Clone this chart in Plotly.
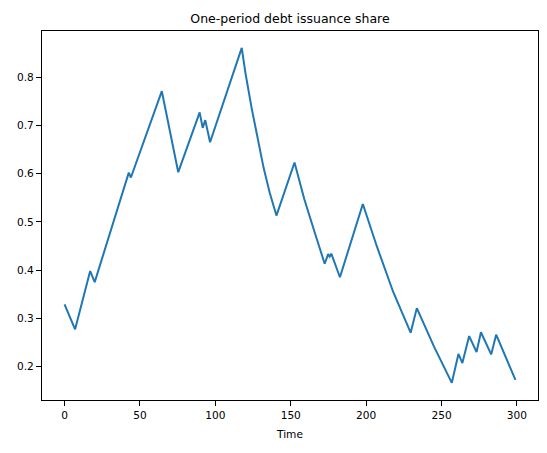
import plotly.graph_objects as go

# Time (x) and share (y) at the visible turning points of the line
time = [0, 7, 17, 20, 42.6, 44, 64.5, 75.4, 89.6, 91.6, 93.3, 96.5, 117.5,
        120, 124, 128, 132, 136, 140.5, 152.5, 159, 166, 172.5, 174.8, 175.8,
        176.9, 182.6, 197.8, 207, 218, 229.5, 233.6, 245, 256.8, 261.2, 263.8,
        268.3, 273.2, 276.1, 282.9, 286.2, 299]
share = [0.329, 0.277, 0.398, 0.375, 0.602, 0.592, 0.771, 0.603, 0.727, 0.695,
         0.711, 0.665, 0.861, 0.808, 0.737, 0.672, 0.612, 0.561, 0.513, 0.623,
         0.547, 0.477, 0.413, 0.433, 0.428, 0.434, 0.385, 0.537, 0.450, 0.354,
         0.270, 0.321, 0.241, 0.166, 0.226, 0.207, 0.263, 0.230, 0.271, 0.225,
         0.266, 0.172]

x_ticks = [0, 50, 100, 150, 200, 250, 300]
y_ticks = [0.2, 0.3, 0.4, 0.5, 0.6, 0.7, 0.8]

fig = go.Figure()
fig.add_trace(go.Scatter(x=time, y=share, mode="lines",
                         line=dict(color="#1f77b4", width=2), showlegend=False))

font = dict(family="DejaVu Sans", color="black")
axis_common = dict(showline=True, linecolor="black", linewidth=1, mirror=True,
                   ticks="outside", ticklen=5, tickwidth=1, tickcolor="black",
                   showgrid=False, zeroline=False,
                   tickfont=dict(family="DejaVu Sans", size=10.6, color="black"))

fig.update_layout(
    width=547, height=453,
    margin=dict(l=42, r=9, t=31, b=53),
    paper_bgcolor="white", plot_bgcolor="white",
    font=font,
    title=dict(text="One-period debt issuance share", x=0.5, xref="paper",
               xanchor="center", y=1, yref="paper", yanchor="bottom",
               pad=dict(b=8), font=dict(family="DejaVu Sans", size=12.5, color="black")),
    xaxis=dict(range=[-14.95, 313.95], tickvals=x_ticks,
               title=dict(text="Time", font=dict(family="DejaVu Sans", size=10.6, color="black"), standoff=10),
               **axis_common),
    yaxis=dict(range=[0.1304, 0.8959], tickvals=y_ticks, tickformat=".1f", **axis_common),
)

fig.write_html("out.html", config={"displayModeBar": False},
               post_script="document.body.style.margin='0';")
